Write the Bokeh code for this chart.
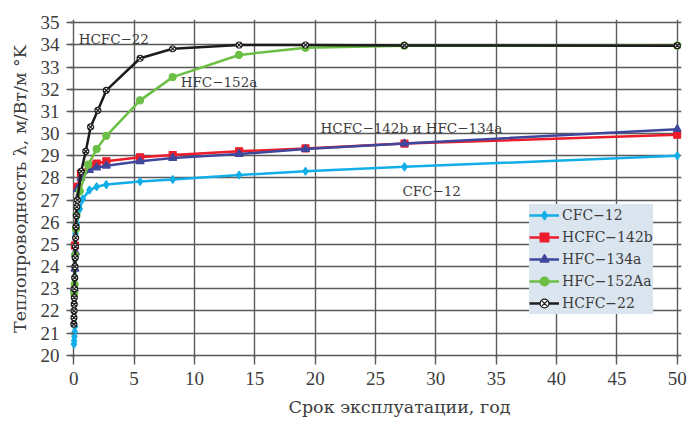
from bokeh.plotting import figure
from bokeh.models import Range1d, Legend, LegendItem, Label, FixedTicker, Title
from bokeh.embed import file_html
from bokeh.resources import INLINE

# ---- data (years, W/m K) ----
cfc12_t = [0.02, 0.04, 0.06, 0.08, 0.1, 0.15, 0.25, 0.5, 0.75, 1.3, 1.9, 2.7, 5.5, 8.2, 13.7, 19.2, 27.4, 50]
cfc12_v = [20.5, 20.65, 20.85, 21.05, 21.3, 25.5, 25.9, 26.6, 27.05, 27.45, 27.6, 27.7, 27.84, 27.93, 28.13, 28.3, 28.5, 29.0]

hcfc142b_t = [0.1, 0.3, 0.6, 1.3, 1.9, 2.7, 5.5, 8.2, 13.7, 19.2, 27.4, 50]
hcfc142b_v = [24.95, 27.6, 28.2, 28.55, 28.65, 28.75, 28.93, 29.03, 29.2, 29.33, 29.55, 29.95]

hfc134a_t = [0.05, 0.1, 0.15, 0.3, 0.6, 1.3, 1.9, 2.7, 5.5, 8.2, 13.7, 19.2, 27.4, 50]
hfc134a_v = [23.0, 23.9, 24.65, 27.5, 28.0, 28.35, 28.47, 28.55, 28.75, 28.9, 29.08, 29.3, 29.55, 30.2]

hfc152a_t = [0.04, 0.08, 0.12, 0.18, 0.24, 0.5, 1.2, 1.9, 2.7, 5.5, 8.2, 13.7, 19.2, 27.4, 50]
hfc152a_v = [22.8, 23.2, 24.5, 25.7, 26.3, 27.4, 28.6, 29.3, 29.9, 31.5, 32.55, 33.55, 33.87, 33.97, 33.97]

hcfc22_t = [0.01, 0.02, 0.03, 0.04, 0.05, 0.06, 0.08, 0.1, 0.12, 0.14, 0.16, 0.19, 0.22, 0.26, 0.3,
            0.62, 1.0, 1.4, 2.0, 2.7, 5.5, 8.2, 13.7, 19.2, 27.4, 50]
hcfc22_v = [21.4, 21.7, 22.0, 22.3, 22.6, 23.0, 23.5, 24.0, 24.4, 24.9, 25.3, 25.8, 26.3, 26.7, 27.0,
            28.3, 29.2, 30.3, 31.05, 31.95, 33.4, 33.83, 34.0, 34.0, 33.98, 33.97]

series_names = ["CFC\u221212", "HCFC\u2212142b", "HFC\u2212134a", "HFC\u2212152Aa", "HCFC\u221222"]
x_ticks = list(range(0, 51, 5))
y_ticks = list(range(20, 36))
x_title = "Срок эксплуатации, год"
y_title = "Теплопроводность λ, м/Вт/м °K"

SERIF = "DejaVu Serif"
TICKF = "Liberation Serif"
TXT = "#3c3c3c"
GRID = "#5a5a5a"

p = figure(width=688, height=424, output_backend="svg", toolbar_location=None,
           x_range=Range1d(-0.35, 50.35), y_range=Range1d(19.85, 35.15),
           min_border_left=69, min_border_right=7, min_border_top=19, min_border_bottom=66)
p.outline_line_color = None
p.background_fill_color = "white"

p.xaxis.ticker = FixedTicker(ticks=x_ticks)
p.yaxis.ticker = FixedTicker(ticks=y_ticks)
p.xgrid.ticker = FixedTicker(ticks=x_ticks)
p.ygrid.ticker = FixedTicker(ticks=y_ticks)
for g in (p.xgrid, p.ygrid):
    g.grid_line_color = GRID
    g.grid_line_width = 1.4
    g.grid_line_alpha = 1.0

for ax in (p.xaxis, p.yaxis):
    ax.axis_line_color = None
    ax.major_tick_line_color = GRID
    ax.major_tick_line_width = 1.4
    ax.minor_tick_line_color = None
    ax.major_label_text_font = TICKF
    ax.major_label_text_font_size = "19px"
    ax.major_label_text_color = TXT
    ax.axis_label_text_font = SERIF
    ax.axis_label_text_font_size = "17.5px"
    ax.axis_label_text_font_style = "normal"
    ax.axis_label_text_color = TXT

p.xaxis.major_tick_in = 4
p.xaxis.major_tick_out = 6
p.xaxis.major_label_standoff = 7

p.yaxis.major_tick_in = 5
p.yaxis.major_tick_out = 3
p.yaxis.major_label_standoff = 7
p.yaxis.axis_label = y_title
p.yaxis.axis_label_standoff = 8

# x-axis title, slightly right of centre as in the original
xt = Title(text=x_title, align="left", offset=219, text_font=SERIF, text_font_size="17.5px",
           text_font_style="normal", text_color=TXT, standoff=15)
p.add_layout(xt, "below")

specs = [
    (cfc12_t, cfc12_v, "#12aee8", "diamond", 8, "#12aee8"),
    (hcfc142b_t, hcfc142b_v, "#ec1c2a", "square", 7, "#ec1c2a"),
    (hfc134a_t, hfc134a_v, "#3f479c", "triangle", 8, "#3f479c"),
    (hfc152a_t, hfc152a_v, "#6cbf45", "circle", 7, "#6cbf45"),
    (hcfc22_t, hcfc22_v, "#1c1c1c", "circle_x", 6, "white"),
]

items = []
for (t, v, col, mk, sz, fill), name in zip(specs, series_names):
    ln = p.line(t, v, line_color=col, line_width=2.5)
    sc = p.scatter(t, v, marker=mk, size=sz, fill_color=fill, line_color=col, line_width=1.2)
    items.append(LegendItem(label=name, renderers=[ln, sc]))

legend = Legend(items=items, location=(460, 44))
legend.background_fill_color = "#dbe5f0"
legend.background_fill_alpha = 1.0
legend.border_line_color = None
legend.label_text_font = SERIF
legend.label_text_font_size = "14px"
legend.label_text_color = TXT
legend.glyph_width = 30
legend.glyph_height = 22
legend.label_height = 22
legend.label_standoff = 3
legend.spacing = 0
legend.padding = 6
legend.margin = 0
p.add_layout(legend, "center")

annotations = [
    ("HCFC\u221222", 0.41, 34.28),
    ("HFC\u2212152a", 8.86, 32.34),
    ("HCFC\u2212142b и HFC\u2212134a", 20.45, 30.27),
    ("CFC\u221212", 27.23, 27.43),
]
for txt, ax_, ay_ in annotations:
    p.add_layout(Label(x=ax_, y=ay_, text=txt, text_font=SERIF, text_font_size="13.5px",
                       text_color=TXT, text_baseline="middle", text_align="left",
                       background_fill_color=None))

open("out.html", "w").write(file_html(p, INLINE))
